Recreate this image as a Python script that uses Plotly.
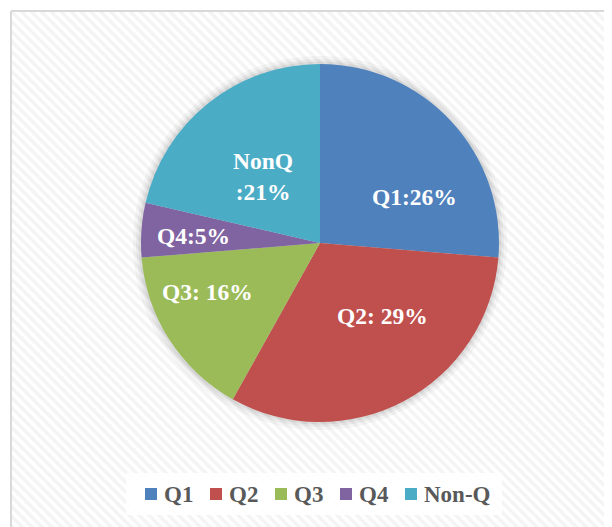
import plotly.graph_objects as go

labels = ["Q1", "Q2", "Q3", "Q4", "Non-Q"]
values = [26.3, 31.8, 15.6, 4.9, 21.4]
slice_text = ["Q1:26%", "Q2: 29%", "Q3: 16%", "Q4:5%", "NonQ<br>:21%"]
colors = ["#4F81BD", "#C0504D", "#9BBB59", "#8064A2", "#4BACC6"]

# page body has an 8px margin, so the figure is a bit smaller and axes use screen pixels
OFF = 8
W, H = 612 - OFF, 527 - OFF
serif = "Liberation Serif, Times New Roman, serif"


def px(x):
    return (x - OFF) / W


def py(y):
    return 1 - (y - OFF) / H


fig = go.Figure()

# striped chart-area background
fig.add_trace(go.Scatter(
    x=[11, 640, 640, 11, 11], y=[11, 11, 560, 560, 11],
    mode="lines", fill="toself", line=dict(color="#d9d9d9", width=2),
    fillpattern=dict(shape="\\", bgcolor="white", fgcolor="#e9e9e9", size=7, solidity=0.5),
    hoverinfo="skip", showlegend=False))

# soft shadow behind the pie (a few faint discs)
cx, cy, r = 320, 243, 179
for grow, alpha in [(8, 0.035), (5, 0.045), (2.5, 0.06)]:
    fig.add_trace(go.Pie(
        values=[1], marker=dict(colors=[f"rgba(0,0,0,{alpha})"]), textinfo="none",
        hoverinfo="skip", showlegend=False, sort=False,
        domain=dict(x=[px(cx - r - grow), px(cx + r + grow)],
                    y=[py(cy + r + grow), py(cy - r - grow)])))

fig.add_trace(go.Pie(
    labels=labels, values=values, text=slice_text, textinfo="none",
    sort=False, direction="clockwise", rotation=0,
    marker=dict(colors=colors, line=dict(color="white", width=0)),
    showlegend=False,
    domain=dict(x=[px(cx - r), px(cx + r)], y=[py(cy + r), py(cy - r)])))

# slice labels
label_pos = [(414, 197), (382, 316), (207, 292), (193, 236), (263, 176)]
for t, (x, y) in zip(slice_text, label_pos):
    fig.add_annotation(x=x, y=y, text=t, showarrow=False, xref="x", yref="y",
                       font=dict(family=serif, size=23.5, color="white", weight="bold"))

# legend: box, swatches and names
fig.add_shape(type="rect", xref="x", yref="y", x0=126, x1=502, y0=473, y1=515,
              fillcolor="rgba(255,255,255,0.85)", line=dict(width=0), layer="above")
swatch_x = [145, 210, 275, 340, 405]
for name, col, x in zip(labels, colors, swatch_x):
    fig.add_shape(type="rect", xref="x", yref="y", x0=x, x1=x + 12, y0=488, y1=500,
                  fillcolor=col, line=dict(width=0), layer="above")
    fig.add_annotation(x=x + 17, y=494, text=name, showarrow=False, xref="x", yref="y",
                       xanchor="left", yanchor="middle",
                       font=dict(family=serif, size=23, color="#595959", weight="bold"))

fig.update_layout(
    width=W, height=H, margin=dict(l=0, r=0, t=0, b=0),
    paper_bgcolor="white", plot_bgcolor="rgba(0,0,0,0)", showlegend=False,
    xaxis=dict(range=[OFF, OFF + W], visible=False, fixedrange=True),
    yaxis=dict(range=[OFF + H, OFF], visible=False, fixedrange=True),
)

fig.write_html("out.html")
